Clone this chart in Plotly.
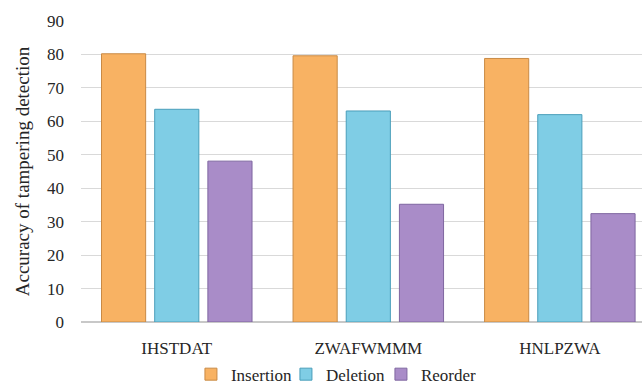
import plotly.graph_objects as go

categories = ["IHSTDAT", "ZWAFWMMM", "HNLPZWA"]
insertion = [80.2, 79.6, 78.8]
deletion = [63.6, 63.1, 62.0]
reorder = [48.1, 35.2, 32.4]
series_names = ["Insertion", "Deletion", "Reorder"]
y_ticks = [0, 10, 20, 30, 40, 50, 60, 70, 80, 90]

colors = ["#F8B263", "#7FCDE5", "#A98CC8"]
edge = ["#C98A45", "#4A9EBA", "#7F66A0"]

fig = go.Figure()
for name, vals, c, e in zip(series_names, [insertion, deletion, reorder], colors, edge):
    fig.add_trace(go.Bar(name=name, x=categories, y=vals,
                         marker=dict(color=c, line=dict(color=e, width=1))))

font = "Liberation Serif"
ink = "#262626"
fig.update_layout(
    width=642, height=388,
    margin=dict(l=80.5, r=0, t=21, b=66, autoexpand=False),
    paper_bgcolor="white", plot_bgcolor="white",
    barmode="group", bargap=0.167, bargroupgap=0.17,
    font=dict(family=font, size=17, color=ink),
    showlegend=True,
    legend=dict(orientation="h", x=0.45, xanchor="center", y=-0.115, yanchor="top",
                font=dict(family=font, size=17, color=ink), itemwidth=30,
                entrywidth=50, entrywidthmode="pixels",
                bgcolor="rgba(0,0,0,0)"),
    xaxis=dict(range=[-0.5, 2.429], showgrid=False, showline=False, zeroline=False,
               ticks="", ticklabelstandoff=14, tickfont=dict(family=font, size=17, color=ink)),
    yaxis=dict(range=[0, 90], tickvals=y_ticks, showgrid=True, gridcolor="#D9D9D9", gridwidth=1,
               zeroline=True, zerolinecolor="#C8C8C8", zerolinewidth=1.5, showline=False,
               ticks="", ticklabelstandoff=16, tickfont=dict(family=font, size=17, color=ink),
               title=dict(text="Accuracy of tampering detection",
                          font=dict(family=font, size=19, color=ink), standoff=12)),
)
fig.write_html("out.html")
